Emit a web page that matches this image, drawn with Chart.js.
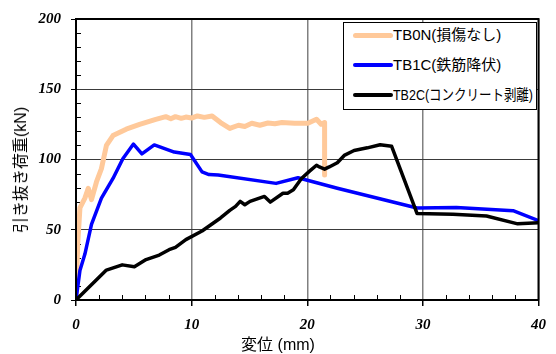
<!DOCTYPE html>
<html>
<head>
<meta charset="utf-8">
<script src="https://cdn.jsdelivr.net/npm/chart.js@4/dist/chart.umd.min.js"></script>
<style>
  html, body { margin: 0; padding: 0; background: #fff; }
  #wrap { width: 556px; height: 354px; position: relative; overflow: hidden; }
  #c { position: absolute; left: 0; top: 0; }
  .txt { position: absolute; font-family: "Liberation Sans", Arial, "Noto Sans CJK JP", sans-serif; color: #000; white-space: nowrap; line-height: 1; }
  #legend { position: absolute; left: 343px; top: 22px; width: 192px; height: 86px; border: 1px solid #000; background: #fff; }
  .row { position: absolute; left: 0; height: 20px; width: 192px; }
  .swatch { position: absolute; left: 9px; width: 40px; border-radius: 3px; }
  .label { position: absolute; left: 49px; top: 2px; font-size: 15px; transform-origin: 0 50%; }
  #xtitle { left: 0; width: 556px; text-align: center; top: 337px; font-size: 16px; }
  #ytitle { left: 21px; top: 170px; font-size: 16px; transform: translate(-50%, -50%) rotate(-90deg); }
</style>
</head>
<body>
<div id="wrap">
  <canvas id="c" width="556" height="354"></canvas>
  <div id="legend"></div>
  <div id="xtitle" class="txt"></div>
  <div id="ytitle" class="txt"></div>
</div>
<script>
// ---- data ----
const seriesNames = ['TB0N(損傷なし)', 'TB1C(鉄筋降伏)', 'TB2C(コンクリート剥離)'];
const xTicks = [0, 10, 20, 30, 40];
const yTicks = [0, 50, 100, 150, 200];
const xTitle = '変位 (mm)';
const yTitle = '引き抜き荷重(kN)';

const tb0nX = [0, 0.15, 0.34, 0.77, 1.06, 1.34, 1.77, 2.2, 2.63, 3.2, 4.34, 5.5, 6.9, 7.3, 7.77, 8.2, 8.6, 9.1, 9.5, 10.0, 10.5, 11.1, 11.77, 12.5, 13.3, 14.05, 14.6, 15.2, 15.9, 16.6, 17.2, 17.8, 18.9, 20.05, 20.8, 21.2, 21.5, 21.5];
const tb0nY = [0, 40, 65.5, 72.5, 79.5, 71.4, 84, 93.5, 110, 117, 121.6, 125, 128.6, 129.5, 130.5, 129, 130.5, 129.3, 130.2, 129.5, 131, 130, 131, 126.3, 122.1, 124.4, 123.5, 125.8, 124.4, 126, 125.5, 126.3, 125.8, 125.8, 128.6, 125.1, 126.3, 88.9];

const tb1cX = [0, 0.34, 0.77, 1.34, 2.2, 3.2, 4.05, 4.97, 5.7, 6.77, 8.5, 9.9, 10.9, 11.5, 12.3, 17.3, 19.2, 22.6, 29.5, 32.9, 37.8, 40];
const tb1cY = [0, 21, 32.7, 53.8, 72.5, 86.5, 100.6, 111, 104, 110.4, 105.3, 103.6, 91.2, 89.3, 88.9, 83, 87, 79.5, 65.5, 65.8, 63.6, 56.5];

const tb2cX = [0, 2.63, 4.0, 5.05, 6.06, 7.2, 8.05, 8.6, 9.5, 10.9, 12.5, 13.3, 13.8, 14.2, 14.6, 15.05, 16.3, 16.8, 17.9, 18.3, 18.8, 19.5, 20.2, 20.8, 21.05, 21.5, 21.9, 22.6, 23.2, 24.05, 25.2, 26.3, 27.3, 29.5, 32.6, 35.5, 38.2, 40];
const tb2cY = [0, 21.3, 25, 23.7, 28.8, 32, 35.8, 37.5, 43, 49.1, 58.4, 63.8, 66.6, 70.2, 67.8, 70.2, 73.7, 69.7, 76, 76, 78.4, 86.5, 91.7, 95.9, 94.7, 93.1, 94.7, 97.7, 102.9, 106.4, 108.3, 110.5, 109.4, 61.5, 61, 59.8, 54.2, 55];

const colors = ['#FFC99A', '#0000FF', '#000000'];
const widths = [5, 3.5, 3.5];

function pts(xs, ys) { return xs.map((x, i) => ({ x: x, y: ys[i] })); }

const tickFont = { family: 'Liberation Serif', size: 15, style: 'italic', weight: 'bold' };

// frame and inside minor ticks (no text on the canvas except the axis numbers)
const framePlugin = {
  id: 'frame',
  beforeDatasetsDraw(chart) {
    const { ctx, chartArea: a, scales } = chart;
    ctx.save();
    ctx.strokeStyle = '#000';
    ctx.lineWidth = 1;
    ctx.beginPath();
    for (let v = 2; v < 40; v += 2) {
      if (v % 10 === 0) continue;
      const px = Math.round(scales.x.getPixelForValue(v)) + 0.5;
      ctx.moveTo(px, a.bottom); ctx.lineTo(px, a.bottom - 5);
    }
    for (let v = 10; v < 200; v += 10) {
      if (v % 50 === 0) continue;
      const py = Math.round(scales.y.getPixelForValue(v)) + 0.5;
      ctx.moveTo(a.left, py); ctx.lineTo(a.left + 5, py);
    }
    ctx.stroke();
    ctx.restore();
  },
  afterDatasetsDraw(chart) {
    const { ctx, chartArea: a } = chart;
    ctx.save();
    ctx.strokeStyle = '#000';
    ctx.lineWidth = 2;
    ctx.strokeRect(a.left, a.top, a.right - a.left, a.bottom - a.top);
    ctx.restore();
  }
};

const chart = new Chart(document.getElementById('c'), {
  type: 'line',
  data: {
    datasets: [
      { label: 'TB0N', data: pts(tb0nX, tb0nY), borderColor: colors[0], borderWidth: widths[0], order: 3 },
      { label: 'TB1C', data: pts(tb1cX, tb1cY), borderColor: colors[1], borderWidth: widths[1], order: 2 },
      { label: 'TB2C', data: pts(tb2cX, tb2cY), borderColor: colors[2], borderWidth: widths[2], order: 1 }
    ]
  },
  options: {
    responsive: false,
    animation: false,
    layout: { padding: { top: 16, right: 12, left: 0, bottom: 0 } },
    elements: {
      point: { radius: 0 },
      line: { tension: 0, borderJoinStyle: 'round', borderCapStyle: 'round' }
    },
    plugins: { legend: { display: false }, tooltip: { enabled: false } },
    scales: {
      x: {
        type: 'linear', min: 0, max: 40,
        afterBuildTicks(s) { s.ticks = xTicks.map(v => ({ value: v })); },
        afterFit(s) { s.height = 54; },
        grid: { color: '#808080', lineWidth: 1.5, tickColor: '#000', tickLength: 6 },
        ticks: { color: '#000', font: tickFont, padding: 10, maxRotation: 0 }
      },
      y: {
        type: 'linear', min: 0, max: 200,
        afterBuildTicks(s) { s.ticks = yTicks.map(v => ({ value: v })); },
        afterFit(s) { s.width = 76; },
        grid: { color: '#3a3a3a', lineWidth: 1, tickColor: '#000', tickLength: 5 },
        ticks: { color: '#000', font: tickFont, padding: 10 }
      }
    }
  },
  plugins: [framePlugin]
});

// ---- legend and axis titles as real HTML text ----
const legend = document.getElementById('legend');
const rowTops = [2, 32, 62];
seriesNames.forEach((name, i) => {
  const row = document.createElement('div');
  row.className = 'row';
  row.style.top = rowTops[i] + 'px';
  const sw = document.createElement('div');
  sw.className = 'swatch';
  sw.style.background = colors[i];
  sw.style.height = widths[i] + 'px';
  sw.style.top = (10 - widths[i] / 2) + 'px';
  const lb = document.createElement('div');
  lb.className = 'txt label';
  lb.textContent = name;
  row.appendChild(sw);
  row.appendChild(lb);
  legend.appendChild(row);
  const w = lb.getBoundingClientRect().width;
  if (w > 140) lb.style.transform = 'scaleX(' + (140 / w) + ')';
});
document.getElementById('xtitle').textContent = xTitle;
document.getElementById('ytitle').textContent = yTitle;
</script>
</body>
</html>
